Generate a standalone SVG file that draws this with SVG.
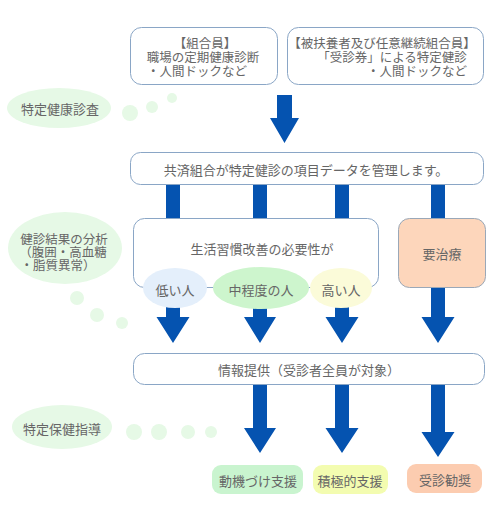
<svg xmlns="http://www.w3.org/2000/svg" width="500" height="530" viewBox="0 0 500 530">
<style>
text{font-family:"Noto Sans CJK JP","Noto Sans CJK SC",sans-serif;font-size:13px;fill:#666;text-anchor:middle;dominant-baseline:central}
.m{font-size:12.5px}
.box{fill:#fff;stroke:#8aa6c6;stroke-width:1}
.arr{fill:#0553b0}
.lg{fill:#e6f9e6}
</style>
<rect width="500" height="530" fill="#fff"/>
<g id="connectors">
<path class="arr" d="M277 95h15v23h7l-14.5 25l-14.5-25h7z"/>
<rect class="arr" x="166" y="184" width="14" height="36"/>
<rect class="arr" x="253" y="184" width="14" height="36"/>
<rect class="arr" x="335" y="184" width="14" height="36"/>
<rect class="arr" x="431" y="184" width="14" height="36"/>
<path class="arr" d="M166 305h14v12h9.5l-16.5 26l-16.5-26h9.5z"/>
<path class="arr" d="M253 305h14v12h9l-16 26l-16-26h9z"/>
<path class="arr" d="M335 305h14v12h9.5l-16.5 26l-16.5-26h9.5z"/>
<path class="arr" d="M431 286h14v31h9.5l-16.5 26l-16.5-26h9.5z"/>
<path class="arr" d="M253 384h14v44h9l-16 25l-16-25h9z"/>
<path class="arr" d="M335 384h14v44h9.5l-16.5 25l-16.5-25h9.5z"/>
<path class="arr" d="M431 384h14v48h9.5l-16.5 25l-16.5-25h9.5z"/>
</g>
<g id="n1"><rect class="box" x="130.5" y="27.5" width="147" height="57" rx="11"/>
<text class="m" x="205" y="42">【組合員】</text><text class="m" x="203" y="56">職場の定期健康診断</text><text class="m" x="197" y="70">・人間ドックなど</text></g>
<g id="n2"><rect class="box" x="287.5" y="27.5" width="196" height="57" rx="11"/>
<text class="m" x="382" y="42">【被扶養者及び任意継続組合員】</text><text class="m" x="392" y="56">「受診券」による特定健診</text><text class="m" x="417" y="70">・人間ドックなど</text></g>
<g id="e1"><ellipse class="lg" cx="59" cy="108" rx="52" ry="20"/><text x="60" y="108">特定健康診査</text>
<circle class="lg" cx="130" cy="113" r="8"/><circle class="lg" cx="152" cy="107" r="6"/><circle class="lg" cx="172" cy="98" r="5"/></g>
<g id="n3"><rect class="box" x="130.5" y="152.5" width="353" height="32" rx="10"/><text x="306" y="169">共済組合が特定健診の項目データを管理します。</text></g>
<g id="e2"><ellipse class="lg" cx="65" cy="248" rx="57" ry="36"/>
<text class="m" x="64" y="238">健診結果の分析</text><text class="m" x="63" y="251">（腹囲・高血糖</text><text class="m" x="58" y="264">・脂質異常）</text>
<circle class="lg" cx="77" cy="298" r="7"/><circle class="lg" cx="97" cy="315" r="7"/><circle class="lg" cx="122" cy="323" r="6"/></g>
<g id="n4"><rect class="box" x="133.5" y="218.5" width="245" height="69" rx="11"/><text x="262" y="248">生活習慣改善の必要性が</text></g>
<g id="n5"><rect x="398.5" y="218.5" width="87" height="69" rx="11" fill="#fdd6bb" stroke="#9aa8b8"/><text x="442" y="253">要治療</text></g>
<g id="l1"><ellipse cx="175" cy="288" rx="32" ry="20" fill="#e4effb"/><text x="175" y="289">低い人</text></g>
<g id="l2"><ellipse cx="261" cy="288" rx="48" ry="21" fill="#cdf5cd"/><text x="261" y="289">中程度の人</text></g>
<g id="l3"><ellipse cx="341" cy="288" rx="31" ry="20" fill="#fbfbd9"/><text x="341" y="289">高い人</text></g>
<g id="n6"><rect class="box" x="133.5" y="353.5" width="351" height="31" rx="11"/><text x="309" y="369">情報提供（受診者全員が対象）</text></g>
<g id="e3"><ellipse class="lg" cx="62" cy="427" rx="50" ry="22"/><text x="62" y="428">特定保健指導</text>
<circle class="lg" cx="134" cy="432" r="8"/><circle class="lg" cx="159" cy="432" r="8"/><circle class="lg" cx="188" cy="432" r="7"/><circle class="lg" cx="211" cy="432" r="6"/></g>
<g id="b1"><rect x="212" y="465" width="91" height="29" rx="9" fill="#c9f4cf"/><text x="258" y="480">動機づけ支援</text></g>
<g id="b2"><rect x="313" y="465" width="75" height="29" rx="9" fill="#f3fcb0"/><text x="350" y="480">積極的支援</text></g>
<g id="b3"><rect x="407" y="464" width="75" height="29" rx="9" fill="#fcccb0"/><text x="445" y="479">受診勧奨</text></g>
</svg>
